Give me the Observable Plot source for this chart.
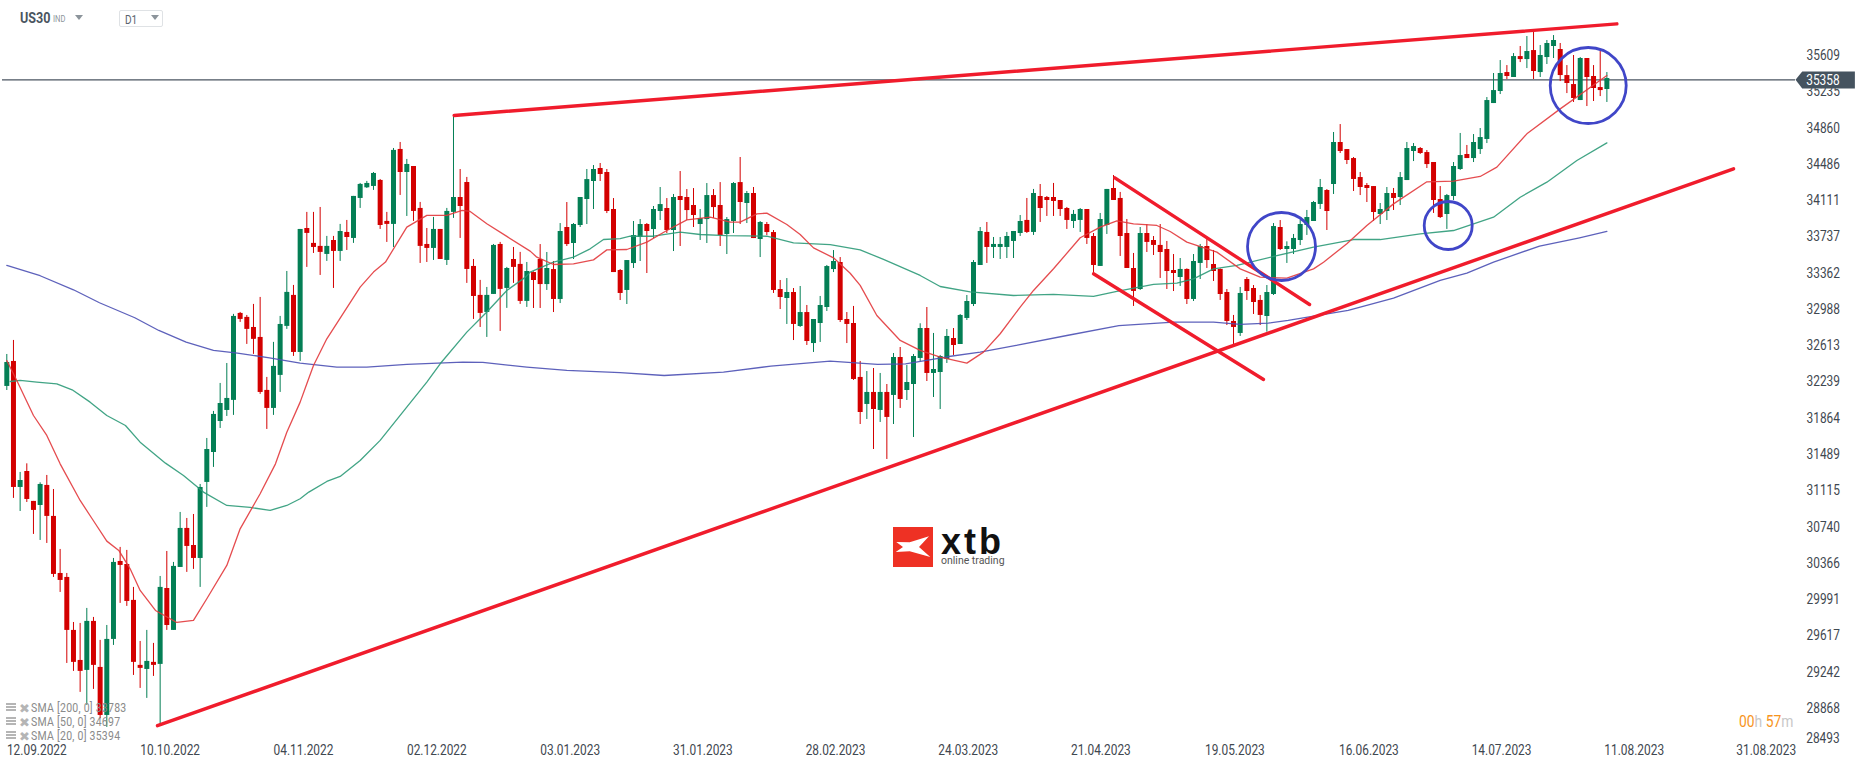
<!DOCTYPE html>
<html>
<head>
<meta charset="utf-8">
<script src="https://cdn.jsdelivr.net/npm/d3@7"></script>
<script src="https://cdn.jsdelivr.net/npm/@observablehq/plot@0.6"></script>
<style>
html,body{margin:0;padding:0;background:#fff;overflow:hidden;width:1866px;height:767px}
#chart{position:absolute;left:0;top:0}
.ov{position:absolute;font-family:Roboto,sans-serif;white-space:nowrap;transform:scaleX(.84);transform-origin:0 50%;line-height:1}
.ic{position:absolute;left:6px;width:10px;height:9px;background:repeating-linear-gradient(#b5b5b5 0 2px,#fff 2px 3px)}
</style>
</head>
<body>
<div id="chart"></div>
<div class="ov" style="left:20px;top:11px;font-size:15px;font-weight:700;color:#4a5560">US30</div>
<div class="ov" style="left:53px;top:15px;font-size:9px;color:#8c949b">IND</div>
<svg style="position:absolute;left:75px;top:15px" width="9" height="6"><path d="M0 0H8L4 5Z" fill="#8c949b"/></svg>
<div style="position:absolute;left:119px;top:10px;width:42px;height:15px;border:1px solid #dfe2e5;border-radius:2px"></div>
<div class="ov" style="left:125px;top:14px;font-size:12px;color:#5a646d">D1</div>
<svg style="position:absolute;left:151px;top:15px" width="9" height="6"><path d="M0 0H8L4 5Z" fill="#8c949b"/></svg>

<svg style="position:absolute;left:893px;top:527px" width="40" height="40">
<rect width="40" height="40" fill="#ee3124"/>
<path d="M3.3 15L16.7 15.3L36 9.3L26 20L37.3 30L16.7 24.3L2.7 25L10 20Z" fill="#fff"/>
</svg>
<div style="position:absolute;left:941px;top:529px;font:700 36px/26px 'Liberation Sans',sans-serif;color:#111;letter-spacing:3px">xtb</div>
<div class="ov" style="left:941px;top:556px;font-size:10.5px;color:#555;transform:none">online trading</div>

<div class="ic" style="top:703px"></div><div class="ov" style="left:19px;top:701px;font:13px 'DejaVu Sans';color:#b5b5b5;transform:none">✖</div>
<div class="ov" style="left:31px;top:702px;font-size:12.5px;color:#8a8a8a;letter-spacing:.3px">SMA [200, 0] 33783</div>
<div class="ic" style="top:717px"></div><div class="ov" style="left:19px;top:715px;font:13px 'DejaVu Sans';color:#b5b5b5;transform:none">✖</div>
<div class="ov" style="left:31px;top:716px;font-size:12.5px;color:#8a8a8a;letter-spacing:.3px">SMA [50, 0] 34697</div>
<div class="ic" style="top:731px"></div><div class="ov" style="left:19px;top:729px;font:13px 'DejaVu Sans';color:#b5b5b5;transform:none">✖</div>
<div class="ov" style="left:31px;top:730px;font-size:12.5px;color:#8a8a8a;letter-spacing:.3px">SMA [20, 0] 35394</div>

<div class="ov" style="left:1739px;top:714px;font-size:16.5px;color:#c8c8c8"><span style="color:#f7941d">00</span>h <span style="color:#f7941d">57</span>m</div>

<script>
const opens=[
32192,32450,31149,31314,31005,30963,31170,30850,30261,30220,
29673,29363,29260,29766,29291,28795,29580,30385,30354,29983,
29312,29270,29343,29322,30106,29673,30323,30726,30550,30416,
31201,31510,31830,31944,32048,32946,32905,32801,32698,32151,
31965,32306,32812,33132,32543,33823,33669,33638,33555,33699,
33586,33782,33720,34133,34243,34257,34319,33896,33865,34639,
34401,34463,34030,33658,33617,33813,33493,33989,34143,34298,
33431,33132,32956,33142,33658,33204,33503,33452,33070,33368,
33503,33244,33399,33090,33833,33668,33854,34122,34308,34442,
34401,34019,33389,33183,33461,33730,33864,33812,33998,34029,
33802,34153,34143,34060,33864,33915,34163,34060,33761,33895,
34297,34081,34184,33709,33864,33781,33193,33100,33162,32811,
32955,32635,32842,33007,33399,33472,32883,32842,32285,32006,
32130,31944,32130,32099,32491,32150,32212,32481,32790,32326,
32336,32470,32687,32625,32894,33038,33441,33782,33627,33627,
33627,33689,33771,33906,33782,34153,34143,34143,34112,34029,
33895,33906,34019,33740,33431,33854,34236,34133,33771,33410,
33193,33771,33699,33648,33606,33389,33317,33400,33090,33462,
33637,33451,33400,33162,32863,32739,33296,33203,33080,32914,
33141,33833,33606,33606,33699,33854,33895,34071,34215,34277,
34711,34638,34545,34349,34267,34256,33967,33998,34184,34143,
34318,34618,34649,34607,34504,34122,33967,34153,34432,34587,
34545,34638,34742,35113,35237,35433,35382,35598,35567,35660,
35433,35588,35702,35671,35402,35309,35144,35578,35392,35278,35258];
const closes=[
32439,31149,31221,31025,30912,31180,30850,30251,30189,29673,
29343,29250,29766,29312,28795,29580,30375,30344,29972,29343,
29281,29353,29312,30117,29724,30334,30726,30540,30416,31149,
31541,31903,32016,32068,32915,32884,32781,32678,32130,31965,
32399,32832,33163,32543,33813,33772,33627,33576,33638,33586,
33792,33730,34154,34278,34288,34391,33854,33865,34629,34401,
34484,33999,33638,33617,33813,33503,33999,34143,34050,33400,
33121,32946,33132,33648,33194,33410,33421,33070,33379,33286,
33244,33410,33090,33792,33657,33864,34143,34328,34432,34380,
33998,33368,33152,33492,33750,33864,33792,34019,34070,33802,
34143,34112,34008,33957,33926,34163,34039,33750,33915,34287,
34091,34184,33719,33885,33781,33183,33110,33162,32832,32955,
32656,32883,33028,33430,33482,32873,32832,32264,31923,32130,
31954,32130,31872,32491,32057,32233,32501,32790,32326,32367,
32501,32708,32615,32925,33069,33472,33792,33627,33658,33658,
33740,33792,33895,33782,34184,34029,34112,34102,34019,33906,
33968,34019,33720,33441,33916,34226,34112,33740,33410,33173,
33771,33679,33648,33575,33379,33358,33400,33090,33482,33637,
33492,33379,33141,32863,32801,33152,33172,33059,32925,33162,
33843,33606,33637,33720,33864,33936,34091,34246,33998,34711,
34618,34525,34329,34246,34236,33988,34019,34184,34133,34349,
34649,34669,34597,34483,34112,33936,34163,34463,34576,34545,
34711,34762,35144,35247,35423,35392,35598,35567,35650,35444,
35609,35733,35764,35402,35320,35165,35578,35382,35268,35247,35371];
const highs=[
32522,32667,31304,31393,31005,31197,31273,31128,30509,30261,
29755,29745,29900,29807,29570,29724,30416,30530,30499,30117,
29559,29673,29539,30230,30488,30375,30891,30829,30870,31180,
31655,31934,32223,32429,32936,32956,32925,33039,33111,32285,
32647,32915,33379,33235,33813,33989,33989,34040,33741,33741,
33865,33906,34154,34288,34309,34401,34329,33989,34649,34711,
34536,34463,34092,33823,33937,33813,34030,34990,34432,34350,
33503,33287,33214,33658,33679,33421,33627,33576,33472,33375,
33657,33575,33482,33874,34091,33874,34143,34432,34473,34494,
34432,34132,33399,33492,33895,33915,33874,34050,34246,34132,
34174,34411,34225,34235,34019,34287,34225,34297,33936,34297,
34556,34205,34246,33895,33885,33802,33286,33306,33203,33224,
33028,32883,33121,33441,33595,33523,32955,33018,32450,32346,
32377,32326,32212,32532,32594,32408,32522,32839,33007,32739,
32512,32780,32790,32935,33131,33492,33833,33885,33730,33730,
33782,33792,33957,34133,34226,34277,34153,34288,34112,34040,
34009,34029,34019,33771,33978,34226,34370,34195,33916,33565,
33833,33864,33740,33864,33689,33554,33513,33406,33554,33658,
33709,33596,33406,33193,32925,33214,33317,33234,33131,33234,
33874,33905,33685,33761,33905,34009,34102,34329,34225,34814,
34896,34638,34556,34401,34287,34256,34081,34246,34236,34401,
34711,34700,34659,34628,34504,34256,34174,34504,34804,34680,
34793,34855,35175,35423,35557,35505,35629,35702,35805,35867,
35712,35764,35815,35733,35505,35609,35588,35578,35505,35650,35433];
const lows=[
32150,31036,30901,30994,30664,30602,30571,30220,30065,29332,
29250,29033,28899,29064,28761,28672,29518,29952,29921,29208,
29074,28971,29198,28692,29673,29673,30323,30272,30303,30117,
30943,31356,31758,31882,31893,32853,32626,32523,32110,31748,
31893,32130,32781,32502,32450,33421,33565,33338,33483,33204,
33483,33596,33669,34030,34236,34216,33813,33679,33627,34164,
33947,33896,33462,33472,33493,33503,33441,33927,33720,33256,
32884,32801,32698,33142,32760,32998,33256,33039,33008,32997,
32997,33183,32955,33048,33637,33503,33833,33864,34019,34308,
33977,33368,33079,33038,33410,33482,33358,33719,33905,33771,
33585,33637,33905,33833,33699,33668,33926,33637,33554,33771,
33864,33874,33719,33523,33750,33152,32986,32832,32666,32801,
32615,32543,32646,32966,33368,32852,32635,32254,31799,31851,
31541,31820,31438,31799,31965,32047,31665,32450,32243,32078,
31954,32429,32512,32625,32873,33017,33441,33462,33513,33503,
33513,33513,33740,33771,33751,33885,33947,33947,33947,33813,
33823,33782,33658,33348,33431,33761,34112,33534,33410,33018,
33183,33575,33544,33307,33193,33172,33224,33038,33069,33296,
33410,33276,33080,32821,32625,32708,33080,32935,32821,32753,
33131,33596,33462,33554,33647,33751,33895,34019,33802,34174,
34597,34483,34205,34163,34091,33895,33864,33905,34009,34060,
34318,34514,34587,34442,33978,33926,33813,34112,34422,34545,
34504,34587,34700,35113,35206,35361,35382,35536,35474,35361,
35382,35516,35578,35340,35216,35124,35144,35082,35134,35185,35124];

const sma200Bar=[0,5,10,13.9,19.2,22.8,26.9,31,34.6,39.4,44,49.5,54,60,68.4,71.4,78,84,92,98.6,107.5,114.6,123.5,130.6,134.8,141.3,146,151.4,159,166.8,175,181,185,189.2,192.2,195.8,201.2,208,215,219,223,229.9,235.9,240];
const sma200Val=[33441,33335,33190,33056,32901,32770,32650,32564,32536,32488,32433,32392,32392,32419,32444,32440,32392,32357,32335,32305,32340,32402,32453,32419,32426,32501,32546,32615,32718,32821,32856,32856,32832,32846,32874,32915,32977,33104,33287,33362,33476,33641,33727,33792];
const sma50Bar=[0.5,2,4.5,7.5,9.8,12.5,15,17.8,20,23.8,26.5,29.5,33,36.5,39.5,42,44,45.3,48,50,53,56,59.6,63,65,69,72,75,77.8,78.5,82,85,87.5,89.5,92,93.5,97,101,104,108,114,118,123.5,128,131.5,137,140,144.5,151,157,163,166.5,172,175.5,178,181,184.5,190,196,202,206,212,217,223,227,231,235.5,240];
const sma50Val=[32243,32254,32236,32219,32157,32030,31892,31789,31617,31400,31273,31101,30963,30943,30912,30963,31032,31101,31211,31263,31428,31635,31945,32237,32426,32753,32960,33183,33321,33372,33475,33527,33613,33709,33719,33743,33743,33785,33761,33750,33743,33675,33657,33603,33503,33338,33224,33169,33131,33142,33121,33173,33245,33259,33303,33406,33441,33534,33630,33709,33709,33768,33802,33940,34146,34301,34525,34707];
const sma20Bar=[0,1.5,4,6,8,11,12.8,15,16.8,18.5,20,22.3,25.5,28,30,33,35,38,40.3,42,44,45,46,48,53,55,56.8,60,63,66,68.3,69.5,72,75,78.5,79.5,82,85,88,90,93,96,99,102,105.5,108.5,110,112.5,114,117,119,121,124,126.5,128,130.5,134,137,140,144,146.5,149,152,154,157,161,164,166.5,169,172.5,174.5,177,181.5,185,188,192,196,197.5,201,204,208,213,217,221,223.5,228,233,240];
const sma20Val=[32460,32254,31892,31686,31393,31015,30826,30595,30499,30309,30086,29879,29755,29776,30000,30344,30722,31084,31393,31720,32030,32220,32409,32684,33218,33373,33476,33837,33958,33958,34009,33999,33872,33741,33589,33527,33451,33458,33499,33602,33606,33682,33802,33912,33940,33888,33888,33974,33981,33864,33761,33623,33520,33361,33235,32925,32667,32564,32495,32433,32546,32736,33011,33183,33407,33727,33837,33902,33871,33854,33792,33682,33579,33406,33320,33310,33406,33475,33665,33854,34077,34305,34311,34360,34456,34800,35058,35402];

// hand-drawn annotations, as [bar, price]
const resistance=[[67.1,34990],[241.5,35936]];
const support=[[22.6,28689],[259,34439]];
const channelTop=[[166.2,34346],[195.4,33038]];
const channelBottom=[[163,33355],[188.5,32264]];
const circleBars=[237.2,216.2,191.2];
const circlePrices=[35299,33854,33637];
const circleRadii=[38,24,34];

const lastPrice=35358;
const tagBars=[268.3,269.3,277.2,277.2,269.3,268.3];
const tagPrices=[35358,35444,35444,35268,35268,35358];

const yTicks=[35609,35235,34860,34486,34111,33737,33362,32988,32613,32239,31864,31489,31115,30740,30366,29991,29617,29242,28868];
const yBottomTick=28493;
const dateBars=[4.5,24.5,44.5,64.5,84.5,104.4,124.3,144.2,164.1,184.2,204.3,224.2,244.1,263.9];
const dateLabels=["12.09.2022","10.10.2022","04.11.2022","02.12.2022","03.01.2023","31.01.2023","28.02.2023","24.03.2023","21.04.2023","19.05.2023","16.06.2023","14.07.2023","11.08.2023","31.08.2023"];

const GREEN="#047f55",RED="#d30000",LINE="#f01c2c",BLUE="#4046c8",TEXT="#3f4850";
const bars=d3.range(opens.length).map(i=>({i,o:opens[i],h:highs[i],l:lows[i],c:closes[i]}));
const colorOf=d=>d.c>=d.o?GREEN:RED;
const series=(xs,ys)=>xs.map((x,k)=>({x,y:ys[k]}));
const pair=p=>({x:p[0],y:p[1]});

const chart=Plot.plot({
  width:1866,height:767,
  marginLeft:0,marginRight:60,marginTop:0,marginBottom:24,
  style:{fontFamily:"Roboto, sans-serif",fontSize:"14px",background:"#fff",overflow:"visible"},
  x:{type:"linear",domain:[0,269.9],range:[6.3,6.3+6.667*269.9]},
  y:{type:"linear",domain:[28493,35609],range:[744.2,55]},
  r:{type:"identity"},
  marks:[
    Plot.ruleY([lastPrice],{x1:-0.65,x2:268.3,stroke:"#4a5560",strokeWidth:1.2}),
    Plot.ruleX(bars,{x:"i",y1:"l",y2:"h",stroke:colorOf,strokeWidth:1}),
    Plot.ruleX(bars,{x:"i",y1:"o",y2:"c",stroke:colorOf,strokeWidth:5}),
    Plot.line(series(sma200Bar,sma200Val),{x:"x",y:"y",stroke:"#4b50b4",strokeWidth:1.3,strokeOpacity:.9}),
    Plot.line(series(sma50Bar,sma50Val),{x:"x",y:"y",stroke:"#2c9a78",strokeWidth:1.3,strokeOpacity:.9}),
    Plot.line(series(sma20Bar,sma20Val),{x:"x",y:"y",stroke:"#e2383c",strokeWidth:1.3,strokeOpacity:.9}),
    Plot.line(resistance.map(pair),{x:"x",y:"y",stroke:LINE,strokeWidth:3.4}),
    Plot.line(support.map(pair),{x:"x",y:"y",stroke:LINE,strokeWidth:3.4}),
    Plot.line(channelTop.map(pair),{x:"x",y:"y",stroke:LINE,strokeWidth:3.4}),
    Plot.line(channelBottom.map(pair),{x:"x",y:"y",stroke:LINE,strokeWidth:3.4}),
    Plot.dot(circleBars.map((x,k)=>({x,y:circlePrices[k],r:circleRadii[k]})),{x:"x",y:"y",r:"r",stroke:BLUE,strokeWidth:2.8,fill:"none"}),
    Plot.axisY({anchor:"right",ticks:yTicks,tickSize:0,tickPadding:0,label:null,color:TEXT,tickFormat:d=>String(d),fontSize:14}),
    Plot.line(series(tagBars,tagPrices),{x:"x",y:"y",fill:"#45535f",stroke:null}),
    Plot.text([yBottomTick],{x:()=>269.9,y:d=>d,text:d=>String(d),textAnchor:"start",dy:-6,fill:TEXT,fontSize:14}),
    Plot.text([lastPrice],{x:()=>269.9,y:d=>d,text:d=>String(d),textAnchor:"start",dy:1,fill:"#fff",fontSize:14}),
    Plot.axisX({anchor:"bottom",ticks:dateBars,tickSize:0,tickPadding:2,label:null,color:TEXT,fontSize:14,tickFormat:d=>dateLabels[dateBars.indexOf(d)]})
  ]
});
document.getElementById("chart").append(chart);
chart.querySelectorAll("text").forEach(t=>{
  t.setAttribute("textLength",t.getComputedTextLength()*0.85);
  t.setAttribute("lengthAdjust","spacingAndGlyphs");
});
</script>
</body>
</html>
